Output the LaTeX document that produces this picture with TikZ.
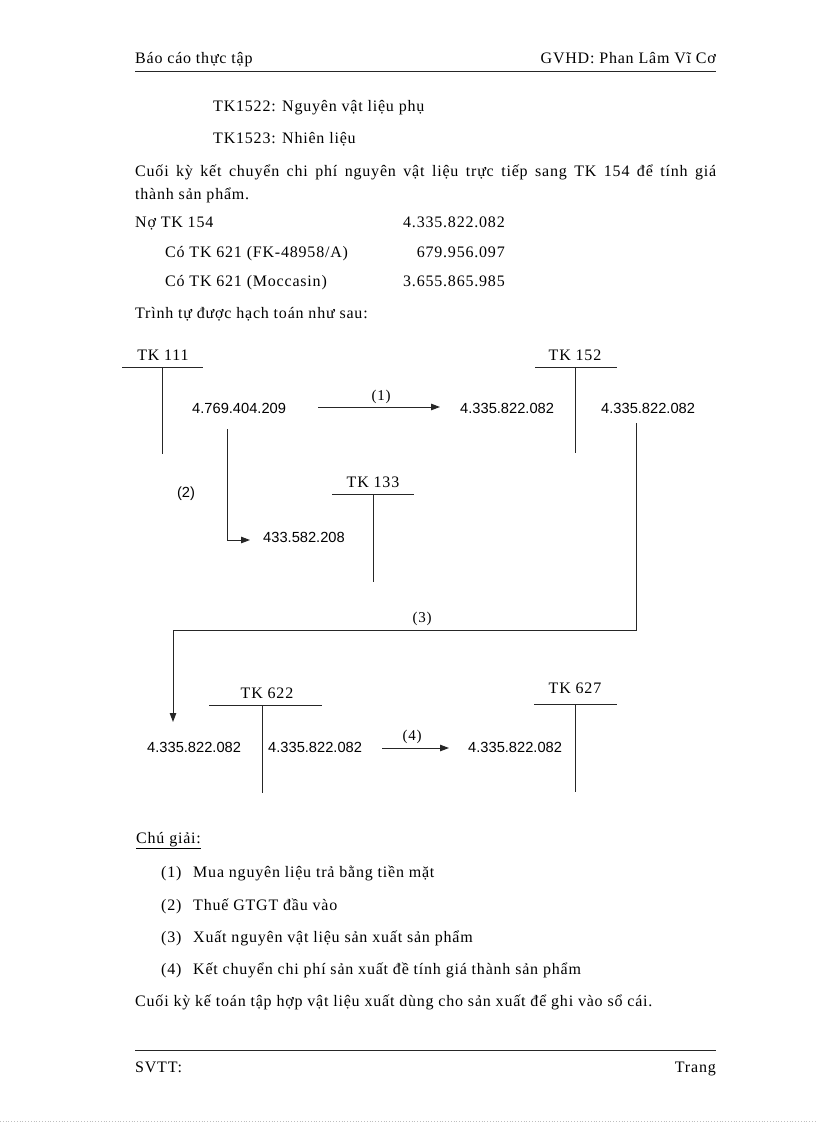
\documentclass[tikz,border=0pt]{standalone}
\usepackage{fontspec}
\setmainfont{Liberation Serif}[LetterSpace=5]
\newfontfamily\arial{Liberation Sans}
\usetikzlibrary{arrows.meta}
\begin{document}
\begin{tikzpicture}[x=1pt,y=-1pt,
  txt/.style={font=\fontsize{16}{19}\selectfont, inner sep=0pt, anchor=base west},
  txtr/.style={txt, anchor=base east},
  num/.style={font=\arial\fontsize{14.67}{17}\selectfont, inner sep=0pt, anchor=base west},
  acct/.style={font=\fontsize{16}{19}\selectfont, inner sep=0pt, anchor=base},
  lbl/.style={font=\fontsize{15}{18}\selectfont, inner sep=0pt, anchor=base},
  lbls/.style={font=\arial\fontsize{14.67}{17}\selectfont, inner sep=0pt, anchor=base},
  ln/.style={line width=1pt, draw=black!85},
  arr/.style={ln, -{Triangle[length=9pt,width=6.5pt]}},
]
\useasboundingbox (0,0) rectangle (816,1123);
% header
\node[txt] (h1) at (135,64) {Báo cáo thực tập};
\node[txtr] (h2) at (716,64) {GVHD: Phan Lâm Vĩ Cơ};
\coordinate (hl1) at (135,72); \coordinate (hl2) at (716,72);
\draw[ln] (hl1) -- (hl2);
% intro text
\node[txt] (t1) at (213,112) {TK1522: Nguyên vật liệu phụ};
\node[txt] (t2) at (213,144) {TK1523: Nhiên liệu};
\node[txt] (t3) at (135,177) {\makebox[581pt][s]{Cuối kỳ kết chuyển chi phí nguyên vật liệu trực tiếp sang TK 154 để tính giá}};
\node[txt] (t4) at (135,200) {thành sản phẩm.};
\node[txt] (t5) at (135,228) {Nợ TK 154};
\node[txtr] (v5) at (505,228) {4.335.822.082};
\node[txt] (t6) at (165,258) {Có TK 621 (FK-48958/A)};
\node[txtr] (v6) at (505,258) {679.956.097};
\node[txt] (t7) at (165,286) {Có TK 621 (Moccasin)};
\node[txtr] (v7) at (505,286) {3.655.865.985};
\node[txt] (t8) at (135,318) {Trình tự được hạch toán như sau:};
% TK 111
\node[acct] (k111) at (163,360) {TK 111};
\coordinate (k111l) at (122,367); \coordinate (k111r) at (203,367);
\coordinate (k111t) at (162,367); \coordinate (k111b) at (162,454);
\draw[ln] (k111l) -- (k111r); \draw[ln] (k111t) -- (k111b);
\node[num] (n111) at (192,413) {4.769.404.209};
% TK 152
\node[acct] (k152) at (575,360) {TK 152};
\coordinate (k152l) at (535,367); \coordinate (k152r) at (617,367);
\coordinate (k152t) at (575,367); \coordinate (k152b) at (575,453);
\draw[ln] (k152l) -- (k152r); \draw[ln] (k152t) -- (k152b);
\node[num] (n152a) at (460,413) {4.335.822.082};
\node[num] (n152b) at (601,413) {4.335.822.082};
% arrow (1)
\coordinate (a1s) at (318,407); \coordinate (a1e) at (440,407);
\draw[arr] (a1s) -- (a1e);
\node[lbl] (l1) at (381,400) {(1)};
% TK 133
\node[acct] (k133) at (373,487) {TK 133};
\coordinate (k133l) at (332,494); \coordinate (k133r) at (414,494);
\coordinate (k133t) at (373,494); \coordinate (k133b) at (373,582);
\draw[ln] (k133l) -- (k133r); \draw[ln] (k133t) -- (k133b);
\node[num] (n133) at (263,542) {433.582.208};
% arrow (2)
\coordinate (a2s) at (227,429); \coordinate (a2e) at (250,540);
\draw[arr] (a2s) |- (a2e);
\node[lbls] (l2) at (186,497) {(2)};
% arrow (3)
\coordinate (a3s) at (636,423); \coordinate (a3c) at (173,630); \coordinate (a3e) at (173,722);
\draw[arr] (a3s) |- (a3c) -- (a3e);
\node[lbl] (l3) at (422,622) {(3)};
% TK 622
\node[acct] (k622) at (267,698) {TK 622};
\coordinate (k622l) at (209,705); \coordinate (k622r) at (322,705);
\coordinate (k622t) at (262,705); \coordinate (k622b) at (262,793);
\draw[ln] (k622l) -- (k622r); \draw[ln] (k622t) -- (k622b);
\node[num] (n622a) at (147,752) {4.335.822.082};
\node[num] (n622b) at (268,752) {4.335.822.082};
% arrow (4)
\coordinate (a4s) at (382,748); \coordinate (a4e) at (449,748);
\draw[arr] (a4s) -- (a4e);
\node[lbl] (l4) at (412,740) {(4)};
% TK 627
\node[acct] (k627) at (575,693) {TK 627};
\coordinate (k627l) at (534,704); \coordinate (k627r) at (617,704);
\coordinate (k627t) at (575,704); \coordinate (k627b) at (575,792);
\draw[ln] (k627l) -- (k627r); \draw[ln] (k627t) -- (k627b);
\node[num] (n627) at (468,752) {4.335.822.082};
% legend
\node[txt] (g0) at (136,843) {\underline{Chú giải:}};
\node[txt] (g1n) at (161,877) {(1)}; \node[txt] (g1) at (193,877) {Mua nguyên liệu trả bằng tiền mặt};
\node[txt] (g2n) at (161,910) {(2)}; \node[txt] (g2) at (193,910) {Thuế GTGT đầu vào};
\node[txt] (g3n) at (161,942) {(3)}; \node[txt] (g3) at (193,942) {Xuất nguyên vật liệu sản xuất sản phẩm};
\node[txt] (g4n) at (161,974) {(4)}; \node[txt] (g4) at (193,974) {Kết chuyển chi phí sản xuất đề tính giá thành sản phẩm};
\node[txt] (g5) at (135,1006) {Cuối kỳ kế toán tập hợp vật liệu xuất dùng cho sản xuất để ghi vào sổ cái.};
% footer
\coordinate (fl1) at (135,1050); \coordinate (fl2) at (716,1050);
\draw[ln] (fl1) -- (fl2);
\node[txt] (f1) at (135,1072) {SVTT:};
\node[txtr] (f2) at (716,1072) {Trang};
\coordinate (d1) at (0,1121); \coordinate (d2) at (816,1121);
\draw[black!25, line width=0.8pt, dotted] (d1) -- (d2);
\end{tikzpicture}
\end{document}
